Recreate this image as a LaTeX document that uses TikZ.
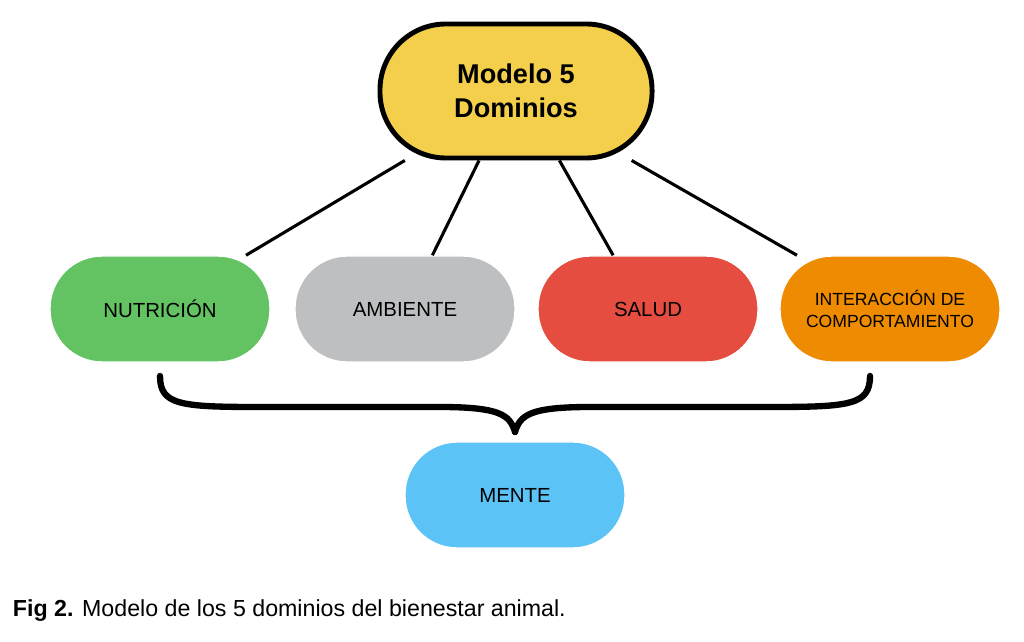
\documentclass[tikz,border=0pt]{standalone}
\usepackage{fontspec}
\setmainfont{Liberation Sans}
\usepackage{xcolor}
\definecolor{amarillo}{HTML}{F3CF4C}
\definecolor{verde}{HTML}{63C363}
\definecolor{gris}{HTML}{BEBFC1}
\definecolor{rojo}{HTML}{E44D3F}
\definecolor{naranja}{HTML}{EE8B00}
\definecolor{celeste}{HTML}{5CC3F6}
\begin{document}
\begin{tikzpicture}[x=0.025cm,y=-0.025cm,
	dominio/.style={draw=white, line width=1pt, rounded corners=1.3cm, minimum width=5.5cm, minimum height=2.65cm, align=center, font=\fontsize{14.5}{17}\selectfont},
	enlace/.style={line width=2.2pt}]
		\useasboundingbox (0,0) rectangle (1024,642);
		\node[draw, line width=3.5pt, fill=amarillo, rounded corners=1.65cm, minimum width=6.8cm, minimum height=3.35cm, align=center, font=\fontsize{19.3}{24}\selectfont\bfseries] (modelo) at (516,91) {Modelo 5\\Dominios};
		\node[dominio, fill=verde] (nutricion) at (160,309) {NUTRICIÓN};
		\node[dominio, fill=gris] (ambiente) at (405,309) {AMBIENTE};
		\node[dominio, fill=rojo] (salud) at (648,309) {SALUD};
		\node[dominio, fill=naranja, font=\fontsize{12.5}{15}\selectfont] (interaccion) at (890,309) {INTERACCIÓN DE\\COMPORTAMIENTO};
		\node[dominio, fill=celeste] (mente) at (515,495) {MENTE};
		\draw[enlace] (modelo.-148) -- (nutricion.32);
		\draw[enlace] (modelo.-118) -- (ambiente.63);
		\draw[enlace] (modelo.-58) -- (salud.123);
		\draw[enlace] (modelo.-31) -- (interaccion.150);
		% llave hacia mente
		\coordinate (pico) at (515,432);
		\draw[line width=4.5pt, line cap=round] (160,376) .. controls (160,405) and (180,407) .. (260,407) -- (440,407) .. controls (500,407) and (510,415) .. (pico);
		\draw[line width=4.5pt, line cap=round] (870,376) .. controls (870,405) and (850,407) .. (770,407) -- (590,407) .. controls (530,407) and (520,415) .. (pico);
		\node[anchor=west, font=\fontsize{16.5}{19}\selectfont] (pie) at (8,611) {\textbf{Fig 2.} Modelo de los 5 dominios del bienestar animal.};
	\end{tikzpicture}
\end{document}
